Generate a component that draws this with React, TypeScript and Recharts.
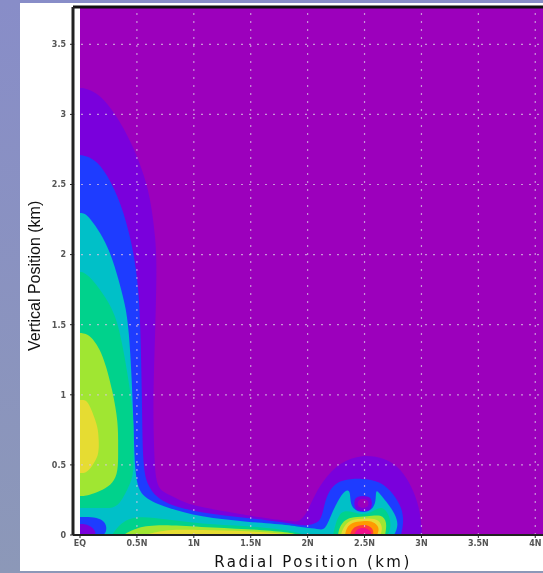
import { ComposedChart, Area, XAxis, YAxis, ReferenceLine, Label } from "recharts";

type Row = [number, number, number]; // radial km, lower km, upper km

const xTicks = [0, 0.5, 1, 1.5, 2, 2.5, 3, 3.5, 4];
const xTickLabels = ["EQ", "0.5N", "1N", "1.5N", "2N", "2.5N", "3N", "3.5N", "4N"];
const yTicks = [0, 0.5, 1, 1.5, 2, 2.5, 3, 3.5];

const xDomain = [-0.0615, 4.068];
const yDomain = [0, 3.766];

// contour bands, drawn from the lowest level up
const backdrop: Row[] = [[0, 0, 3.766], [4.068, 0, 3.766]];
const violetOuter: Row[] = [
  [0, 0, 3.188], [0.06, 0, 3.185], [0.176, 0, 3.14], [0.308, 0, 3.01], [0.466, 0, 2.78], [0.571, 0, 2.55],
  [0.625, 0, 2.368], [0.665, 0, 2.104], [0.675, 0, 1.912], [0.662, 0, 1.462], [0.641, 0, 0.984],
  [0.65, 0, 0.606], [0.665, 0, 0.37], [0.72, 0, 0.31], [0.791, 0, 0.285], [0.923, 0, 0.228],
  [1.054, 0, 0.2], [1.406, 0, 0.15], [1.476, 0, 0.14], [1.757, 0, 0.105], [1.845, 0, 0.1],
  [1.907, 0, 0.09], [1.977, 0, 0.128], [2.047, 0, 0.26], [2.135, 0, 0.39], [2.285, 0, 0.52],
  [2.478, 0, 0.575], [2.68, 0, 0.55], [2.82, 0, 0.475], [2.925, 0, 0.33], [2.98, 0, 0.2],
  [3.0, 0, 0.071], [3.005, 0, 0],
];
const blueOuter: Row[] = [
  [0, 0, 2.71], [0.05, 0, 2.705], [0.149, 0, 2.67], [0.27, 0, 2.53], [0.385, 0, 2.31], [0.475, 0, 2.011],
  [0.515, 0, 1.748], [0.53, 0, 1.512], [0.545, 0, 0.984], [0.55, 0, 0.514], [0.585, 0, 0.36],
  [0.677, 0, 0.265], [0.791, 0, 0.214], [1.054, 0, 0.157], [1.476, 0, 0.121], [1.845, 0, 0.086],
  [1.977, 0, 0.06], [2.091, 0, 0.085], [2.127, 0, 0.13], [2.16, 0, 0.27], [2.22, 0, 0.35],
  [2.3, 0, 0.395], [2.478, 0, 0.405], [2.64, 0, 0.385], [2.76, 0, 0.29], [2.83, 0, 0.19],
  [2.845, 0, 0.09], [2.82, 0, 0],
];
const cyanOuter: Row[] = [
  [0, 0, 2.297], [0.04, 0, 2.295], [0.088, 0, 2.26], [0.176, 0, 2.16], [0.27, 0, 2.011], [0.34, 0, 1.819],
  [0.385, 0, 1.676], [0.43, 0, 1.512], [0.47, 0, 0.87], [0.48, 0, 0.392], [0.545, 0, 0.265],
  [0.765, 0, 0.193], [1.054, 0, 0.128], [1.476, 0, 0.093], [1.845, 0, 0.071], [1.977, 0, 0.05],
  [2.091, 0, 0.045], [2.153, 0, 0.03], [2.205, 0, 0.14], [2.267, 0, 0.25], [2.33, 0, 0.32],
  [2.37, 0, 0.32], [2.375, 0, 0.26], [2.385, 0, 0.19], [2.487, 0, 0.15], [2.585, 0, 0.19],
  [2.6, 0, 0.26], [2.6, 0, 0.32], [2.62, 0, 0.31], [2.69, 0, 0.24], [2.77, 0, 0.15],
  [2.8, 0, 0.07], [2.76, 0, 0],
];
const greenColumn: Row[] = [
  [0, 0.193, 1.876], [0.04, 0.193, 1.872], [0.114, 0.193, 1.82], [0.22, 0.193, 1.7], [0.33, 0.19, 1.55],
  [0.42, 0.33, 1.15], [0.47, 0.42, 0.85], [0.47, 0.55, 0.7],
];
const limeColumn: Row[] = [
  [0, 0.278, 1.441], [0.04, 0.278, 1.438], [0.095, 0.29, 1.42], [0.2, 0.32, 1.3], [0.29, 0.37, 1.02],
  [0.335, 0.45, 0.8], [0.335, 0.6, 0.65],
];
const yellowColumn: Row[] = [
  [0, 0.442, 0.963], [0.04, 0.44, 0.965], [0.08, 0.46, 0.94], [0.135, 0.53, 0.82], [0.16, 0.57, 0.75],
  [0.165, 0.63, 0.66],
];
const blueCorner: Row[] = [
  [0, 0, 0.128], [0.1, 0, 0.13], [0.19, 0, 0.115], [0.235, 0, 0.07], [0.23, 0, 0.02], [0.205, 0, 0],
];
const violetCorner: Row[] = [[0, 0, 0.078], [0.05, 0, 0.078], [0.11, 0, 0.055], [0.14, 0, 0.02], [0.13, 0, 0]];
const greenTail: Row[] = [
  [0.28, 0, 0], [0.36, 0, 0.09], [0.5, 0, 0.14], [0.765, 0, 0.11], [1.054, 0, 0.08],
  [1.476, 0, 0.064], [1.845, 0, 0.036], [1.977, 0, 0],
];
const limeTail: Row[] = [
  [0.38, 0, 0], [0.5, 0, 0.055], [0.703, 0, 0.075], [1.054, 0, 0.057], [1.476, 0, 0.043],
  [1.845, 0, 0.02], [1.93, 0, 0],
];
const yellowTail: Row[] = [
  [0.6, 0, 0.007], [0.765, 0, 0.04], [1.054, 0, 0.036], [1.476, 0, 0.029], [1.8, 0, 0.01], [1.85, 0, 0],
];
const greenDome: Row[] = [
  [2.223, 0, 0], [2.24, 0, 0.06], [2.267, 0, 0.13], [2.31, 0, 0.175], [2.4, 0, 0.165], [2.487, 0, 0.14],
  [2.575, 0, 0.17], [2.66, 0, 0.21], [2.72, 0, 0.14], [2.735, 0, 0.05], [2.7, 0, 0],
];
const limeDome: Row[] = [
  [2.267, 0, 0], [2.28, 0, 0.06], [2.33, 0, 0.11], [2.4, 0, 0.13], [2.52, 0, 0.13], [2.65, 0, 0.15],
  [2.7, 0, 0.09], [2.68, 0, 0],
];
const yellowDome: Row[] = [
  [2.293, 0, 0], [2.31, 0, 0.05], [2.36, 0, 0.1], [2.43, 0, 0.115], [2.54, 0, 0.12], [2.63, 0, 0.11],
  [2.66, 0, 0.05], [2.64, 0, 0],
];
const orangeDome: Row[] = [
  [2.329, 0, 0], [2.34, 0, 0.05], [2.39, 0, 0.09], [2.48, 0, 0.1], [2.58, 0, 0.1], [2.635, 0, 0.05], [2.61, 0, 0],
];
const redDome: Row[] = [
  [2.373, 0, 0], [2.385, 0, 0.04], [2.44, 0, 0.07], [2.53, 0, 0.075], [2.58, 0, 0.04], [2.575, 0, 0],
];
const magentaDome: Row[] = [
  [2.408, 0, 0], [2.42, 0, 0.03], [2.47, 0, 0.055], [2.53, 0, 0.045], [2.56, 0, 0.02], [2.557, 0, 0],
];
const violetHole: Row[] = [
  [2.41, 0.225, 0.225], [2.415, 0.19, 0.26], [2.44, 0.175, 0.275], [2.487, 0.17, 0.28], [2.535, 0.175, 0.275],
  [2.56, 0.19, 0.26], [2.565, 0.225, 0.225],
];
const purpleHole: Row[] = [
  [2.44, 0.225, 0.225], [2.445, 0.2, 0.25], [2.487, 0.19, 0.26], [2.53, 0.2, 0.25], [2.535, 0.225, 0.225],
];

const PURPLE = "#9c00bc";
const VIOLET = "#7a00dc";
const BLUE = "#1e3cff";
const CYAN = "#00c0c8";
const GREEN = "#00d28c";
const LIME = "#a0e632";
const YELLOW = "#e6dc32";
const ORANGE = "#ff9a00";
const RED = "#ff3c3c";
const MAGENTA = "#f0108c";

const bands: [Row[], string][] = [
  [backdrop, PURPLE],
  [violetOuter, VIOLET],
  [blueOuter, BLUE],
  [cyanOuter, CYAN],
  [greenColumn, GREEN],
  [limeColumn, LIME],
  [yellowColumn, YELLOW],
  [blueCorner, BLUE],
  [violetCorner, VIOLET],
  [greenTail, GREEN],
  [limeTail, LIME],
  [yellowTail, YELLOW],
  [greenDome, GREEN],
  [limeDome, LIME],
  [yellowDome, YELLOW],
  [orangeDome, ORANGE],
  [redDome, RED],
  [magentaDome, MAGENTA],
  [violetHole, VIOLET],
  [purpleHole, PURPLE],
];

const toRows = (band: Row[]) => band.map(([x, low, high]) => ({ x, range: [low, high] }));

const tickStyle = { fill: "#555", fontSize: 8, fontFamily: "DejaVu Sans", fontWeight: 700 };
const yTitleStyle = { fill: "#111", fontSize: 16, fontFamily: "Liberation Sans" };
const xTitleStyle = { fill: "#111", fontSize: 15, fontFamily: "DejaVu Sans", letterSpacing: 2.4 };
const gridProps = { stroke: "#d8c4e4", strokeWidth: 1.2, strokeOpacity: 0.75, strokeDasharray: "2 6" };

export default function App() {
  return (
    <div
      style={{
        position: "fixed", left: 0, top: 0, width: 543, height: 573, overflow: "hidden",
        background: "linear-gradient(#888dc8, #8c98b8)",
      }}
    >
      <div style={{ position: "absolute", left: 20, top: 3, width: 523, height: 568, background: "#fff" }} />
      <div style={{ position: "absolute", left: 0, top: 0, filter: "blur(0.5px)" }}>
        <ComposedChart width={543} height={573} margin={{ top: 7, right: 0, bottom: 0, left: 0 }}>
          <XAxis
            type="number"
            dataKey="x"
            domain={xDomain}
            ticks={xTicks}
            allowDataOverflow
            height={38}
            interval={0}
            tickSize={3}
            tick={tickStyle}
            tickFormatter={(v) => xTickLabels[xTicks.indexOf(v)]}
            axisLine={{ stroke: "#222", strokeWidth: 2 }}
            tickLine={{ stroke: "#222" }}
          >
            <Label value="Radial Position (km)" position="insideBottom" dx={5} dy={-1} style={xTitleStyle} />
          </XAxis>
          <YAxis
            type="number"
            domain={yDomain}
            ticks={yTicks}
            allowDataOverflow
            width={73}
            interval={0}
            tickSize={3}
            tickMargin={4}
            tick={tickStyle}
            axisLine={{ stroke: "#222", strokeWidth: 3 }}
            tickLine={{ stroke: "#222" }}
          >
            <Label value="Vertical Position (km)" angle={-90} position="insideLeft" dx={29} dy={80} style={yTitleStyle} />
          </YAxis>
          {bands.map(([band, color], i) => (
            <Area
              key={i}
              data={toRows(band)}
              dataKey="range"
              type="basis"
              stroke="none"
              fill={color}
              fillOpacity={1}
              dot={false}
              activeDot={false}
              isAnimationActive={false}
            />
          ))}
          {xTicks.slice(1).map((v) => (
            <ReferenceLine key={v} x={v} {...gridProps} />
          ))}
          {yTicks.slice(1).map((v) => (
            <ReferenceLine key={v} y={v} {...gridProps} />
          ))}
          <ReferenceLine y={3.766} stroke="#111" strokeWidth={3} />
        </ComposedChart>
      </div>
    </div>
  );
}
